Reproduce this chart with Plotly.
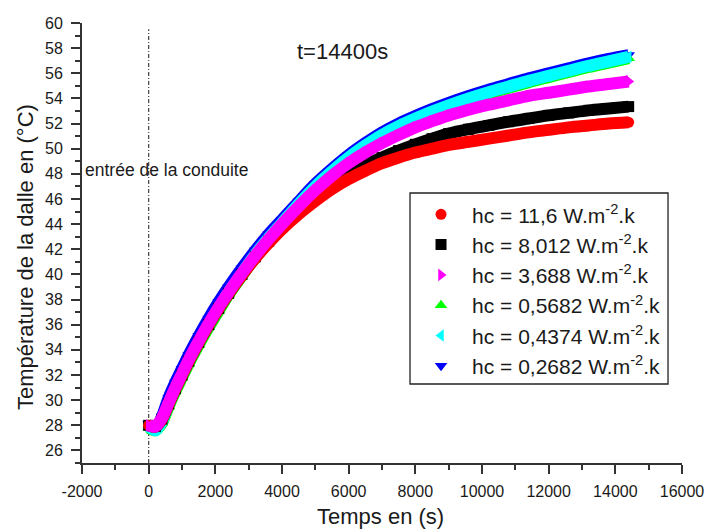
import plotly.graph_objects as go

# ---------------- data ----------------
temps_s = [0, 200, 400, 600, 800, 1000, 1200, 1500, 1800, 2100, 2400, 2800, 3200, 3600,
           4000, 4500, 5000, 5500, 6000, 6500, 7000, 7500, 8000, 8500, 9000, 9600,
           10200, 10800, 11400, 12000, 12600, 13200, 13800, 14400]

T_hc_11_6 = [28.0, 27.9, 28.5, 29.7, 30.9, 32.0, 33.1, 34.6, 36.0, 37.3, 38.5, 39.95, 41.3, 42.5,
             43.6, 44.8, 45.85, 46.8, 47.6, 48.25, 48.85, 49.3, 49.7, 50.0, 50.3, 50.55,
             50.8, 51.05, 51.3, 51.5, 51.7, 51.85, 52.0, 52.1]
T_hc_8_012 = [28.0, 27.9, 28.5, 29.7, 30.9, 32.0, 33.1, 34.6, 36.0, 37.3, 38.5, 40.0, 41.4, 42.65,
              43.8, 45.05, 46.2, 47.15, 48.0, 48.7, 49.3, 49.85, 50.35, 50.8, 51.2, 51.55,
              51.85, 52.15, 52.4, 52.65, 52.85, 53.05, 53.2, 53.35]
T_hc_3_688 = [28.0, 27.9, 28.6, 29.8, 31.0, 32.1, 33.2, 34.7, 36.1, 37.4, 38.6, 40.1, 41.5, 42.8,
              44.0, 45.4, 46.7, 47.85, 48.85, 49.7, 50.45, 51.1, 51.7, 52.2, 52.65, 53.1,
              53.5, 53.85, 54.2, 54.45, 54.7, 54.95, 55.15, 55.35]
T_hc_0_5682 = [27.8, 27.6, 28.2, 29.5, 30.7, 31.8, 32.9, 34.4, 35.8, 37.1, 38.4, 39.9, 41.4, 42.8,
               44.0, 45.5, 46.9, 48.1, 49.2, 50.15, 51.0, 51.7, 52.3, 52.85, 53.35, 53.9,
               54.4, 54.85, 55.3, 55.7, 56.1, 56.5, 56.85, 57.2]
T_hc_0_4374 = [27.9, 27.6, 28.3, 29.7, 30.9, 32.0, 33.1, 34.6, 36.0, 37.3, 38.6, 40.1, 41.6, 42.9,
               44.1, 45.6, 47.0, 48.2, 49.3, 50.25, 51.1, 51.8, 52.4, 52.95, 53.45, 54.0,
               54.5, 54.95, 55.4, 55.8, 56.2, 56.6, 56.95, 57.3]
T_hc_0_2682 = [28.1, 27.7, 28.7, 30.2, 31.4, 32.5, 33.6, 35.1, 36.5, 37.8, 39.0, 40.5, 41.9, 43.2,
               44.35, 45.8, 47.2, 48.4, 49.5, 50.45, 51.3, 52.0, 52.6, 53.15, 53.65, 54.2,
               54.7, 55.15, 55.6, 56.0, 56.4, 56.8, 57.15, 57.45]

legend_labels = [
    "hc = 11,6 W.m<sup>-2</sup>.k",
    "hc = 8,012 W.m<sup>-2</sup>.k",
    "hc = 3,688 W.m<sup>-2</sup>.k",
    "hc = 0,5682 W.m<sup>-2</sup>.k",
    "hc = 0,4374 W.m<sup>-2</sup>.k",
    "hc = 0,2682 W.m<sup>-2</sup>.k",
]
series_values = [T_hc_11_6, T_hc_8_012, T_hc_3_688, T_hc_0_5682, T_hc_0_4374, T_hc_0_2682]
colors = ["#FF0000", "#000000", "#FF00FF", "#00FF00", "#00FFFF", "#0000FF"]
symbols = ["circle", "square", "triangle-right", "triangle-up", "triangle-left", "triangle-down"]

x_tick_vals = [-2000, 0, 2000, 4000, 6000, 8000, 10000, 12000, 14000, 16000]
x_tick_text = ["-2000", "0", "2000", "4000", "6000", "8000", "10000", "12000", "14000", "16000"]

entry_time = 0
x_range = [-2000, 16000]
y_range = [25, 60]

FONT = "Liberation Sans, Arial, sans-serif"
TXT = "#1a1a1a"

fig = go.Figure()

# drawing order (bottom -> top): blue, green, cyan, black, red, magenta
draw_order = [5, 3, 4, 1, 0, 2]
for i in draw_order:
    fig.add_trace(go.Scatter(
        x=temps_s, y=series_values[i], mode="lines",
        line=dict(color=colors[i], width=12, shape="spline", smoothing=0.8),
        showlegend=False, hoverinfo="skip"))
    fig.add_trace(go.Scatter(
        x=temps_s, y=series_values[i], mode="markers", name=legend_labels[i],
        marker=dict(color=colors[i], symbol=symbols[i], size=11, line=dict(width=0)),
        legendrank=i + 1))

# vertical dash-dot line at pipe entrance
fig.add_shape(type="line", xref="x", yref="y", x0=entry_time, x1=entry_time,
              y0=y_range[0], y1=59.5, line=dict(color="#444444", width=1.2, dash="4px,2px,1px,2px"),
              layer="below")

# legend frame
fig.add_shape(type="rect", xref="paper", yref="paper",
              x0=0.5467, x1=0.9767, y0=0.1795, y1=0.6136,
              line=dict(color="#222222", width=1.3), fillcolor="rgba(0,0,0,0)", layer="above")

axis_common = dict(
    showline=True, linecolor="#333333", linewidth=2, mirror=False,
    ticks="outside", ticklen=9, tickwidth=1.5, tickcolor="#333333",
    showgrid=False, zeroline=False, automargin=False,
    tickfont=dict(family=FONT, size=16, color=TXT),
)

fig.update_xaxes(range=x_range, tickmode="array", tickvals=x_tick_vals, ticktext=x_tick_text,
                 minor=dict(dtick=1000, tick0=0, ticks="outside", ticklen=5, tickwidth=1.5,
                            tickcolor="#333333"),
                 ticklabelstandoff=4, **axis_common)
fig.update_yaxes(range=y_range, dtick=2, tick0=0,
                 minor=dict(dtick=1, ticks="outside", ticklen=5, tickwidth=1.5, tickcolor="#333333"),
                 ticklabelstandoff=5, **axis_common)

fig.add_annotation(text="Temps en (s)", xref="paper", yref="paper", x=0.498, y=-0.122,
                   showarrow=False, font=dict(family=FONT, size=22, color=TXT),
                   xanchor="center", yanchor="middle")
fig.add_annotation(text="Température de la dalle en (°C)", xref="paper", yref="paper",
                   x=-0.095, y=0.468, textangle=-90, showarrow=False,
                   font=dict(family=FONT, size=22, color=TXT), xanchor="center", yanchor="middle")
fig.add_annotation(text="t=14400s", xref="paper", yref="paper", x=0.434, y=0.935,
                   showarrow=False, font=dict(family=FONT, size=22, color=TXT),
                   xanchor="center", yanchor="middle")
fig.add_annotation(text="entrée de la conduite", xref="x", yref="y", x=x_range[0], y=48.3,
                   showarrow=False, font=dict(family=FONT, size=17.5, color=TXT),
                   xanchor="left", yanchor="middle", xshift=1)

fig.update_layout(
    width=705, height=532,
    margin=dict(l=82, r=23, t=23, b=69, autoexpand=False),
    paper_bgcolor="white", plot_bgcolor="white",
    font=dict(family=FONT, color=TXT),
    legend=dict(x=0.5467, y=0.611, xanchor="left", yanchor="top",
                bgcolor="rgba(0,0,0,0)", borderwidth=0, itemwidth=52,
                font=dict(family=FONT, size=21, color=TXT), traceorder="normal"),
)

fig.write_html("out.html")
